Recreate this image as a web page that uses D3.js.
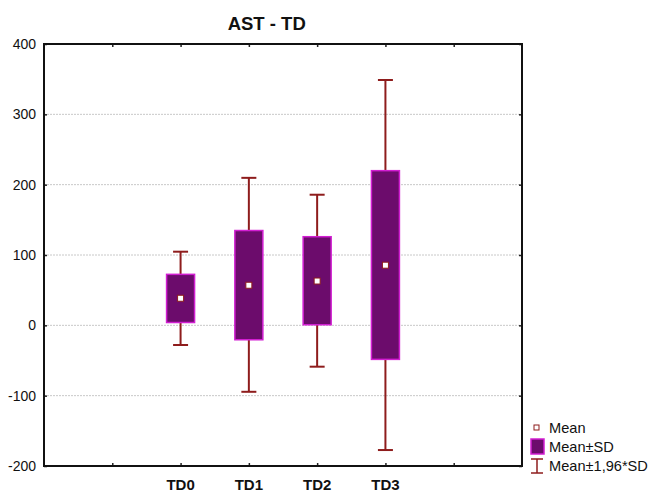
<!DOCTYPE html>
<html><head><meta charset="utf-8">
<script src="https://cdn.jsdelivr.net/npm/d3@7/dist/d3.min.js"></script>
<style>body{margin:0;background:#fff}svg{display:block;font-family:Arial,"Liberation Sans",sans-serif}</style>
</head><body><svg id="c" width="652" height="492"></svg>
<script>
const categories = ["TD0","TD1","TD2","TD3"];
const means      = [38.5, 57, 63, 85.5];
const sdLow      = [4, -20.5, 0.8, -48.4];
const sdHigh     = [72.5, 134.8, 126, 219.9];
const ciLow      = [-28, -94.5, -58.8, -177.3];
const ciHigh     = [104.7, 209.7, 185.7, 348.8];
const yTicks     = [-200, -100, 0, 100, 200, 300, 400];

const svg = d3.select("#c");
const L = 44, R = 522, T = 44, B = 466;
const x = d3.scaleLinear().domain([0, 7]).range([L, R]);
const xPos = d => x(categories.indexOf(d) + 2);
const y = d3.scaleLinear().domain([-200, 400]).range([B, T]);

// grid
svg.append("g").selectAll("line").data(yTicks.filter(v => v > -200 && v < 400)).join("line")
  .attr("x1", L).attr("x2", R).attr("y1", d => y(d)).attr("y2", d => y(d))
  .attr("stroke", "#c8c8c8").attr("stroke-width", 1).attr("stroke-dasharray", "2,1");

// axes (inward ticks)
const xt = [1, 2, 3, 4, 5, 6];
const axL = d3.axisLeft(y).tickValues(yTicks).tickSize(-3).tickFormat(d => d < 0 ? "-" + Math.abs(d) : d).tickPadding(8);
const gL = svg.append("g").attr("transform", `translate(${L},0)`).call(axL);
gL.select(".domain").remove();
gL.selectAll("text").attr("font-size", 14).attr("fill", "#111").attr("font-family", "Arial, 'Liberation Sans', sans-serif");
gL.selectAll(".tick line").attr("stroke", "#222").attr("stroke-width", 1.5);
const gR = svg.append("g").attr("transform", `translate(${R},0)`).call(d3.axisRight(y).tickValues(yTicks).tickSize(-3).tickFormat(""));
gR.select(".domain").remove();
gR.selectAll(".tick line").attr("stroke", "#222").attr("stroke-width", 1.5);
const gT = svg.append("g").attr("transform", `translate(0,${T})`).call(d3.axisTop(x).tickValues(xt).tickSize(-3).tickFormat(""));
gT.select(".domain").remove();
gT.selectAll(".tick line").attr("stroke", "#222").attr("stroke-width", 1.5);
const gB = svg.append("g").attr("transform", `translate(0,${B})`).call(d3.axisBottom(x).tickValues(xt).tickSize(-3).tickFormat(""));
gB.select(".domain").remove();
gB.selectAll(".tick line").attr("stroke", "#222").attr("stroke-width", 1.5);

// frame
svg.append("rect").attr("x", L).attr("y", T).attr("width", R - L).attr("height", B - T)
  .attr("fill", "none").attr("stroke", "#111").attr("stroke-width", 2);

// x labels
svg.append("g").selectAll("text").data(categories).join("text")
  .attr("x", d => xPos(d)).attr("y", 490).attr("text-anchor", "middle")
  .attr("font-size", 15).attr("font-weight", "bold").attr("fill", "#111").text(d => d);

// title
svg.append("text").attr("x", 266.7).attr("y", 29.5).attr("text-anchor", "middle")
  .attr("font-size", 18.5).attr("font-weight", "bold").attr("fill", "#111").text("AST - TD");

const whisk = "#8e1c1c", boxFill = "#6c0c6c", boxStroke = "#d21ed2";
const data = categories.map((c, i) => ({c, m: means[i], sl: sdLow[i], sh: sdHigh[i], cl: ciLow[i], ch: ciHigh[i]}));
const g = svg.append("g");
const bw = 28, cw = 15;
data.forEach(d => {
  const cx = xPos(d.c);
  g.append("line").attr("x1", cx).attr("x2", cx).attr("y1", y(d.ch)).attr("y2", y(d.cl))
    .attr("stroke", whisk).attr("stroke-width", 2);
  [d.ch, d.cl].forEach(v => g.append("line").attr("x1", cx - cw / 2).attr("x2", cx + cw / 2)
    .attr("y1", y(v)).attr("y2", y(v)).attr("stroke", whisk).attr("stroke-width", 2));
  g.append("rect").attr("x", cx - bw / 2).attr("y", y(d.sh)).attr("width", bw).attr("height", y(d.sl) - y(d.sh))
    .attr("fill", boxFill).attr("stroke", boxStroke).attr("stroke-width", 1.5);
  g.append("rect").attr("x", cx - 3).attr("y", y(d.m) - 3).attr("width", 6).attr("height", 6)
    .attr("fill", "#fff").attr("stroke", whisk).attr("stroke-width", 1);
});

// legend
const lg = svg.append("g");
lg.append("rect").attr("x", 534).attr("y", 425).attr("width", 5).attr("height", 5)
  .attr("fill", "#fff").attr("stroke", whisk).attr("stroke-width", 1);
lg.append("rect").attr("x", 531).attr("y", 439).attr("width", 13).attr("height", 15)
  .attr("fill", boxFill).attr("stroke", boxStroke).attr("stroke-width", 1.5);
lg.append("line").attr("x1", 537).attr("x2", 537).attr("y1", 459).attr("y2", 473).attr("stroke", whisk).attr("stroke-width", 1.5);
lg.append("line").attr("x1", 531).attr("x2", 543).attr("y1", 459).attr("y2", 459).attr("stroke", whisk).attr("stroke-width", 1.5);
lg.append("line").attr("x1", 531).attr("x2", 543).attr("y1", 473).attr("y2", 473).attr("stroke", whisk).attr("stroke-width", 1.5);
[["Mean", 433], ["Mean±SD", 451.5], ["Mean±1,96*SD", 471]].forEach(([t, yy]) =>
  lg.append("text").attr("x", 549).attr("y", yy).attr("font-size", 14.6).attr("fill", "#111").text(t));
</script></body></html>
